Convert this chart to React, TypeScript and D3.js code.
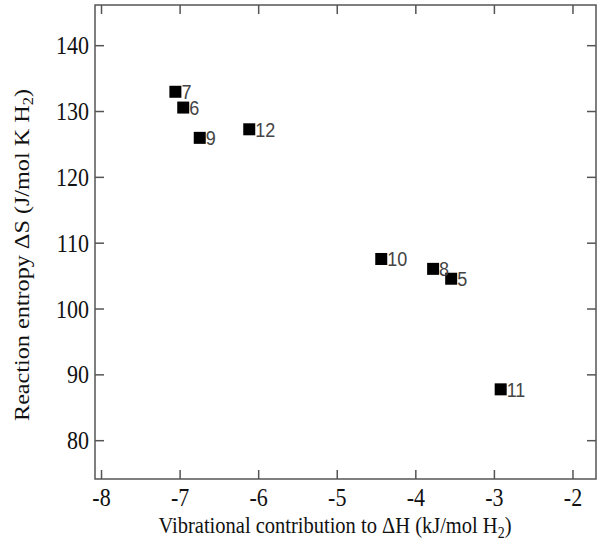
import * as d3 from "d3";
import { useEffect, useRef } from "react";

// compound labels, vibrational dH (kJ/mol H2), reaction entropy dS (J/mol K H2)
const ids = ["7", "6", "9", "12", "10", "8", "5", "11"];
const dH = [-7.06, -6.96, -6.75, -6.12, -4.44, -3.78, -3.55, -2.92];
const dS = [133.0, 130.6, 126.0, 127.3, 107.6, 106.1, 104.6, 87.8];

const xTicks = [-8, -7, -6, -5, -4, -3, -2];
const yTicks = [80, 90, 100, 110, 120, 130, 140];

const App = () => {
  const ref = useRef<SVGSVGElement | null>(null);

  useEffect(() => {
    draw();
  }, []);

  const draw = () => {
    const left = 95,
      right = 596,
      top = 5,
      bottom = 479;
    const stretch = 1.16; // the source picture is a bit taller than wide

    const svg = d3.select(ref.current);
    svg.selectAll("*").remove();

    const x = d3.scaleLinear().domain([-8.083, -1.707]).range([left, right]);
    const y = d3.scaleLinear().domain([74.18, 146.18]).range([bottom, top]);

    const frame = "#555";
    const serif = "'Liberation Serif', 'Times New Roman', serif";

    // inward ticks on all four sides
    const g = svg.append("g").attr("stroke", frame).attr("stroke-width", 1.5);
    xTicks.forEach((t) => {
      g.append("line").attr("x1", x(t)).attr("x2", x(t)).attr("y1", bottom).attr("y2", bottom - 9);
      g.append("line").attr("x1", x(t)).attr("x2", x(t)).attr("y1", top).attr("y2", top + 9);
    });
    yTicks.forEach((t) => {
      g.append("line").attr("y1", y(t)).attr("y2", y(t)).attr("x1", left).attr("x2", left + 9);
      g.append("line").attr("y1", y(t)).attr("y2", y(t)).attr("x1", right).attr("x2", right - 9);
    });

    svg.append("rect")
      .attr("x", left).attr("y", top)
      .attr("width", right - left).attr("height", bottom - top)
      .attr("fill", "none").attr("stroke", frame).attr("stroke-width", 1.5);

    // tick labels
    svg.selectAll("text.xl")
      .data(xTicks)
      .enter()
      .append("text")
      .attr("transform", (d) => `translate(${x(d)},506) scale(1,${stretch})`)
      .attr("text-anchor", "middle")
      .attr("font-family", serif).attr("font-size", "22px")
      .attr("fill", "#111")
      .text((d) => String(d));
    svg.selectAll("text.yl")
      .data(yTicks)
      .enter()
      .append("text")
      .attr("transform", (d) => `translate(${left - 6},${y(d) + 8.5}) scale(1,${stretch})`)
      .attr("text-anchor", "end")
      .attr("font-family", serif).attr("font-size", "22px")
      .attr("fill", "#111")
      .text((d) => String(d));

    // axis titles
    const xt = svg.append("text")
      .attr("transform", `translate(335,533) scale(1,${stretch})`)
      .attr("text-anchor", "middle")
      .attr("font-family", serif).attr("font-size", "20.5px")
      .attr("fill", "#111");
    xt.append("tspan").text("Vibrational contribution to \u0394H (kJ/mol H");
    xt.append("tspan").attr("font-size", "14px").attr("dy", 4).text("2");
    xt.append("tspan").attr("dy", -4).text(")");

    const yt = svg.append("text")
      .attr("transform", `translate(29,255) rotate(-90) scale(${stretch + 0.02},1)`)
      .attr("text-anchor", "middle")
      .attr("font-family", serif).attr("font-size", "20.5px")
      .attr("fill", "#111");
    yt.append("tspan").text("Reaction entropy \u0394S (J/mol K H");
    yt.append("tspan").attr("font-size", "14px").attr("dy", 4).text("2");
    yt.append("tspan").attr("dy", -4).text(")");

    // points
    const s = 12;
    const pts = ids.map((id, i) => ({ id, h: dH[i], e: dS[i] }));
    svg.selectAll("rect.pt")
      .data(pts)
      .enter()
      .append("rect")
      .attr("x", (d) => x(d.h) - s / 2).attr("y", (d) => y(d.e) - s / 2)
      .attr("width", s).attr("height", s)
      .attr("fill", "#000");
    svg.selectAll("text.pt")
      .data(pts)
      .enter()
      .append("text")
      .attr("transform", (d) => `translate(${x(d.h) + s / 2},${y(d.e) + 7.5}) scale(1,${stretch})`)
      .attr("font-family", "'Liberation Sans', Arial, sans-serif")
      .attr("font-size", "18px")
      .attr("fill", "#444")
      .text((d) => d.id);
  };

  return (
    <svg
      ref={ref}
      width={599}
      height={552}
      style={{ position: "absolute", left: 0, top: 0, background: "#fff" }}
    ></svg>
  );
};

export default App;
